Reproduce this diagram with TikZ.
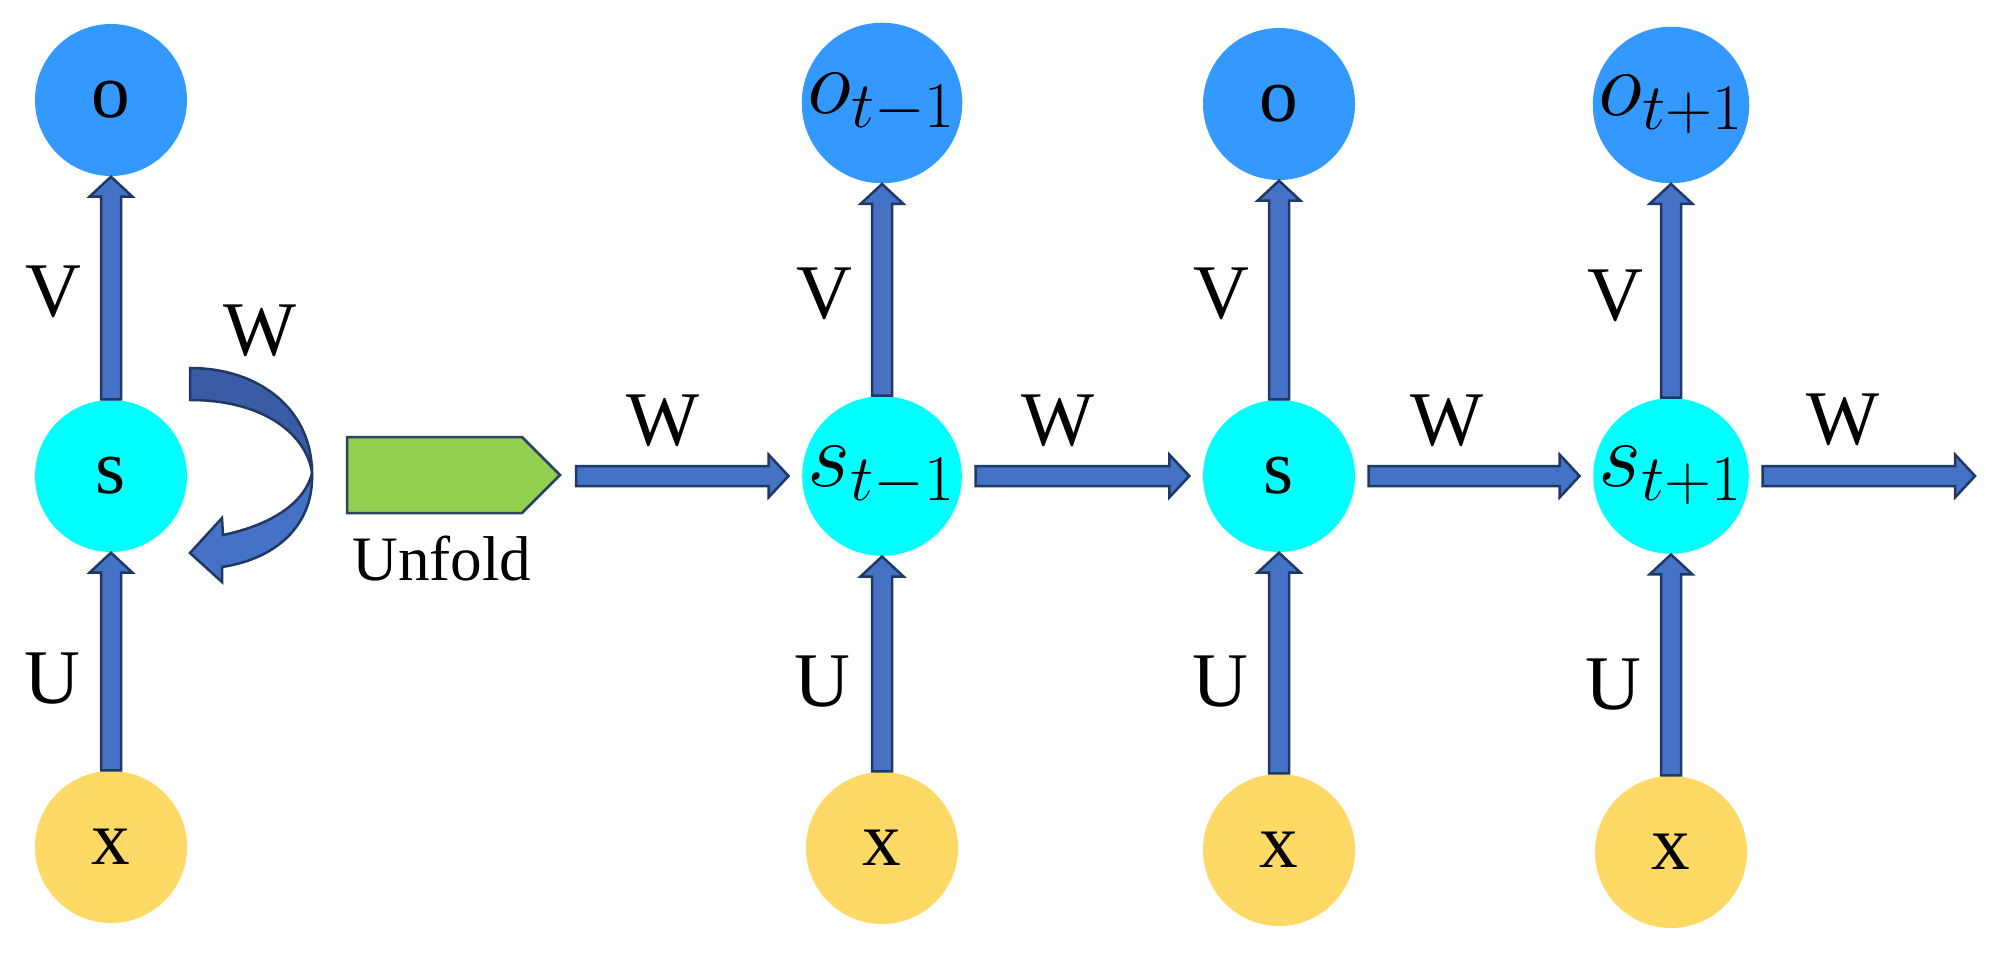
\documentclass[tikz,border=0pt]{standalone}
\usepackage{fix-cm}
\usepackage{fontspec}
\setmainfont{Liberation Serif}
\usepackage{amsmath}
\usepackage{tikz}
\usetikzlibrary{calc}
\definecolor{ocol}{HTML}{3399FF}
\definecolor{scol}{HTML}{00FFFF}
\definecolor{xcol}{HTML}{FFD966}
\definecolor{arrfill}{HTML}{4472C4}
\definecolor{arrdark}{HTML}{3A5CA4}
\definecolor{arrline}{HTML}{1F3864}
\definecolor{unfoldfill}{HTML}{92D050}
\definecolor{unfoldline}{HTML}{2E4160}
\newcommand\Tsz{\fontsize{22}{26}\selectfont}
\newcommand\Msz{\fontsize{26.5}{30}\selectfont}
\newcommand\Usz{\fontsize{18}{22}\selectfont}

\begin{document}
\begin{tikzpicture}[x=1mm,y=1mm,
  onode/.style={fill=ocol},
  snode/.style={fill=scol},
  xnode/.style={fill=xcol},
  lbl/.style={inner sep=0pt,font=\Tsz},
  blockarrow/.style={draw=arrline,fill=arrfill,line width=.25mm,line join=miter,
    to path={($(\tikztostart)!1mm!90:(\tikztotarget)$)
      -- ($(\tikztotarget)!2mm!(\tikztostart)!1mm!-90:(\tikztostart)$)
      -- ($(\tikztotarget)!2mm!(\tikztostart)!2.15mm!-90:(\tikztostart)$)
      -- (\tikztotarget)
      -- ($(\tikztotarget)!2mm!(\tikztostart)!2.15mm!90:(\tikztostart)$)
      -- ($(\tikztotarget)!2mm!(\tikztostart)!1mm!90:(\tikztostart)$)
      -- ($(\tikztostart)!1mm!-90:(\tikztotarget)$) -- cycle}}]%
\useasboundingbox (0,0) rectangle (199.9,96.1);
\begin{scope}[shape=circle,inner sep=0pt,minimum size=15.2mm]%
\tikzstyle{every node}=[font=\Tsz] %%
\node[onode] (o1) at (11.1,86.1) {o}; %%
\node[snode] (s1) at (11.1,48.5) {s}; %%
\node[xnode] (x1) at (11.1,11.4) {x}; %%
\node[onode,font=\Msz] (o2) at (88.2,85.8) {$o_{t-1}$}; %%
\node[snode,font=\Msz] (s2) at (88.2,48.5) {$s_{t-1}$}; %%
\node[xnode] (x2) at (88.2,11.3) {x}; %%
\node[onode] (o3) at (127.9,85.7) {o}; %%
\node[snode] (s3) at (127.9,48.5) {s}; %%
\node[xnode] (x3) at (127.9,11.1) {x}; %%
\node[onode,font=\Msz] (o4) at (167.1,85.6) {$o_{t+1}$}; %%
\node[snode,font=\Msz] (s4) at (167.1,48.5) {$s_{t+1}$}; %%
\node[xnode] (x4) at (167.1,10.9) {x}; %%
\end{scope}
\coordinate (win) at (57.6,48.5);
\coordinate (wout) at (197.5,48.5);
% labels
\node[lbl] (v1) at (5.3,66.9) {V};%
\node[lbl] (v2) at (82.4,66.7) {V};%
\node[lbl] (v3) at (122.1,66.7) {V};%
\node[lbl] (v4) at (161.5,66.5) {V};%
\node[lbl] (u1) at (5.2,28.2) {U};%
\node[lbl] (u2) at (82.2,27.9) {U};%
\node[lbl] (u3) at (122.0,27.9) {U};%
\node[lbl] (u4) at (161.3,27.6) {U};%
\node[lbl] (w0) at (26.0,63.0) {W};%
\node[lbl] (w1) at (66.3,54.0) {W};%
\node[lbl] (w2) at (105.8,54.0) {W};%
\node[lbl] (w3) at (144.7,54.0) {W};%
\node[lbl] (w4) at (184.3,54.1) {W};%
\node[inner sep=0pt,font=\Usz] (unfold) at (44.2,40.2) {Unfold};%
% unfold arrow
\filldraw[fill=unfoldfill,draw=unfoldline,line width=.25mm] (34.7,52.4) -- (52.2,52.4) -- (56.0,48.6) -- (52.2,44.8) -- (34.7,44.8) -- cycle;
% recurrent loop on s
\begin{scope}[shift={(s1.center)},draw=arrline,line width=.25mm,line join=miter]%
\filldraw[fill=arrdark] (7.9,10.8) .. controls (14.9,10.8) and (20.1,6.6) .. (20.1,0.3) .. controls (19.6,4.0) and (15.5,7.6) .. (7.9,7.6) -- cycle;
\filldraw[fill=arrfill] (20.1,0.3) .. controls (20.3,-4.5) and (17.0,-8.2) .. (11.1,-9.1) -- (11.1,-10.6) -- (7.9,-7.7) -- (11.1,-4.2) -- (11.2,-5.9) .. controls (15.5,-5.0) and (19.3,-3.0) .. (20.1,0.3) -- cycle;
\end{scope}
\draw[blockarrow] (s1.north) to (o1.south); %%
\draw[blockarrow] (x1.north) to (s1.south); %%
\draw[blockarrow] (s2.north) to (o2.south); %%
\draw[blockarrow] (x2.north) to (s2.south); %%
\draw[blockarrow] (s3.north) to (o3.south); %%
\draw[blockarrow] (x3.north) to (s3.south); %%
\draw[blockarrow] (s4.north) to (o4.south); %%
\draw[blockarrow] (x4.north) to (s4.south); %%

\draw[blockarrow] (win) to ([xshift=-1.3mm]s2.west); %%
\draw[blockarrow] ([xshift=1.3mm]s2.east) to ([xshift=-1.3mm]s3.west); %%
\draw[blockarrow] ([xshift=1.3mm]s3.east) to ([xshift=-1.3mm]s4.west); %%
\draw[blockarrow] ([xshift=1.3mm]s4.east) to (wout); %%

\end{tikzpicture}
\end{document}
